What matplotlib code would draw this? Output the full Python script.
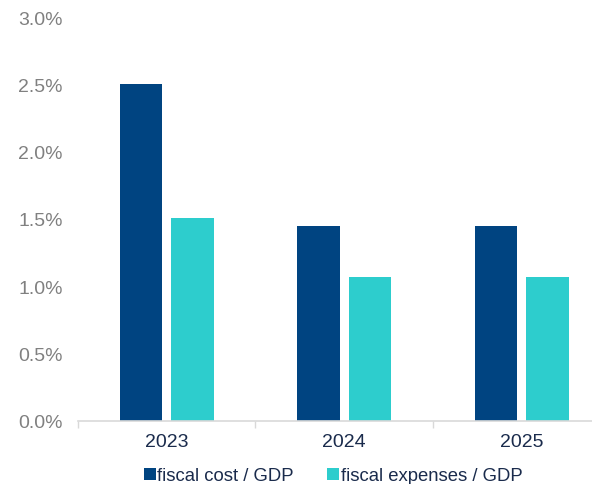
import numpy as np
import matplotlib
matplotlib.use('Agg')
import matplotlib.pyplot as plt
from matplotlib.ticker import FuncFormatter

years = ['2023', '2024', '2025']
fiscal_cost = [2.50, 1.45, 1.45]
fiscal_expenses = [1.51, 1.07, 1.07]

plt.rcParams['font.family'] = ['Liberation Sans', 'DejaVu Sans']

fig = plt.figure(figsize=(5.92, 4.85), dpi=100)
ax = fig.add_axes([78 / 592, 63 / 485, 514 / 592, 404 / 485])

x = np.arange(len(years))
w = 0.24
ax.bar(x - 0.145, fiscal_cost, w, color='#004481', label='fiscal cost / GDP')
ax.bar(x + 0.145, fiscal_expenses, w, color='#2DCDCD', label='fiscal expenses / GDP')

ax.set_ylim(0, 3.0)
ax.set_xlim(-0.5, 2.396)
ax.set_yticks(np.arange(0, 3.01, 0.5))
ax.yaxis.set_major_formatter(FuncFormatter(lambda v, p: f'{v:.1f}%'))
ax.tick_params(axis='y', length=0, labelsize=14, labelcolor='#808080', pad=11)

ax.set_xticks(x)
ax.set_xticklabels(years)
ax.set_xticks([-0.5, 0.5, 1.5], minor=True)
ax.tick_params(axis='x', which='major', length=0, labelsize=14, labelcolor='#1A2B4C', pad=9)
ax.tick_params(axis='x', which='minor', length=5, color='#D9D9D9', width=1)

for s in ['top', 'right', 'left']:
    ax.spines[s].set_visible(False)
ax.spines['bottom'].set_color('#D9D9D9')
ax.spines['bottom'].set_linewidth(1.2)

leg = fig.legend(loc='center', bbox_to_anchor=(333 / 592, 8 / 485), ncol=2,
                 frameon=False, fontsize=13.3, handlelength=0.65, handleheight=0.65,
                 handletextpad=0.08, columnspacing=1.8, borderpad=0)
for t in leg.get_texts():
    t.set_color('#1A2B4C')

fig.savefig('out.png', dpi=100)
